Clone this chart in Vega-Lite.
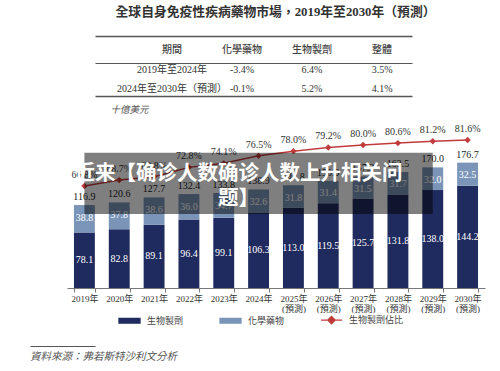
{
  "$schema": "https://vega.github.io/schema/vega-lite/v6.json",
  "padding": {"left": 28, "top": 6, "right": 8, "bottom": 4},
  "background": "white",
  "title": {
    "text": "全球自身免疫性疾病藥物市場，2019年至2030年（預測）",
    "font": "Liberation Serif, Noto Sans CJK TC",
    "fontSize": 12.8,
    "fontWeight": "bold",
    "color": "#333333",
    "anchor": "middle",
    "dx": 5,
    "offset": 17
  },
  "config": {
    "view": {"stroke": null},
    "font": "Liberation Serif, Noto Sans CJK TC"
  },
  "spacing": 32,
  "vconcat": [
    {
      "spacing": 8,
      "vconcat": [
        {
          "width": 317,
          "height": 60,
          "data": {
            "values": [
              {"row": 0, "col": "期間", "cell": "期間"},
              {"row": 0, "col": "化學藥物", "cell": "化學藥物"},
              {"row": 0, "col": "生物製劑", "cell": "生物製劑"},
              {"row": 0, "col": "整體", "cell": "整體"},
              {"row": 1, "col": "期間", "cell": "2019年至2024年"},
              {"row": 1, "col": "化學藥物", "cell": "-3.4%"},
              {"row": 1, "col": "生物製劑", "cell": "6.4%"},
              {"row": 1, "col": "整體", "cell": "3.5%"},
              {"row": 2, "col": "期間", "cell": "2024年至2030年（預測）"},
              {"row": 2, "col": "化學藥物", "cell": "-0.1%"},
              {"row": 2, "col": "生物製劑", "cell": "5.2%"},
              {"row": 2, "col": "整體", "cell": "4.1%"}
            ]
          },
          "encoding": {
            "x": {"field": "col", "type": "nominal", "scale": {"type": "point", "domain": ["期間", "化學藥物", "生物製劑", "整體"], "padding": 0.764, "align": 0.72}, "axis": null},
            "y": {
              "field": "row", "type": "quantitative",
              "scale": {"domain": [-0.72, 2.36], "reverse": true, "nice": false, "zero": false},
              "axis": {
                "values": [-0.72, 0.67, 2.36], "grid": true, "gridColor": "#555555",
                "gridWidth": {"condition": {"test": "datum.value === 0.67", "value": 1}, "value": 1.5},
                "labels": false, "ticks": false, "domain": false, "title": null,
                "minExtent": 67, "maxExtent": 67
              }
            },
            "text": {"field": "cell"}
          },
          "layer": [
            {
              "transform": [{"filter": "datum.row === 0"}],
              "mark": {"type": "text", "font": "Noto Sans CJK TC", "fontSize": 10, "fontWeight": 500, "color": "#444444", "baseline": "middle"}
            },
            {
              "transform": [{"filter": "datum.row > 0"}],
              "mark": {"type": "text", "font": "Liberation Serif, Noto Sans CJK TC", "fontSize": 10, "color": "#333333", "baseline": "middle"}
            }
          ]
        },
        {
          "width": 390,
          "height": 171,
          "data": {
            "values": [
              {"year": "2019年", "生物製劑": 78.1, "化學藥物": 38.8, "total": 116.9, "share": 0.668},
              {"year": "2020年", "生物製劑": 82.8, "化學藥物": 37.8, "total": 120.6, "share": 0.687},
              {"year": "2021年", "生物製劑": 89.1, "化學藥物": 38.6, "total": 127.7, "share": 0.698},
              {"year": "2022年", "生物製劑": 96.4, "化學藥物": 36.0, "total": 132.4, "share": 0.728},
              {"year": "2023年", "生物製劑": 99.1, "化學藥物": 34.7, "total": 133.8, "share": 0.741},
              {"year": "2024年", "生物製劑": 106.3, "化學藥物": 32.6, "total": 138.9, "share": 0.765},
              {"year": "2025年(預測)", "生物製劑": 113.0, "化學藥物": 31.8, "total": 144.8, "share": 0.780},
              {"year": "2026年(預測)", "生物製劑": 119.5, "化學藥物": 31.4, "total": 150.9, "share": 0.792},
              {"year": "2027年(預測)", "生物製劑": 125.7, "化學藥物": 31.5, "total": 157.2, "share": 0.800},
              {"year": "2028年(預測)", "生物製劑": 131.8, "化學藥物": 31.7, "total": 163.5, "share": 0.806},
              {"year": "2029年(預測)", "生物製劑": 138.0, "化學藥物": 32.0, "total": 170.0, "share": 0.812},
              {"year": "2030年(預測)", "生物製劑": 144.2, "化學藥物": 32.5, "total": 176.7, "share": 0.816}
            ]
          },
          "encoding": {
            "x": {
              "field": "year", "type": "nominal", "sort": null,
              "scale": {"paddingInner": 0.4, "paddingOuter": 0.2, "range": [-28, 390]},
              "axis": {
                "title": null, "labelAngle": 0, "labelFontSize": 9, "labelColor": "#333333",
                "labelFont": "Liberation Serif, Noto Sans CJK TC",
                "labelExpr": "length(datum.label) > 5 ? [substring(datum.label, 0, 5), substring(datum.label, 5)] : datum.label",
                "labelLineHeight": 10.5, "labelPadding": 2, "labelBaseline": "top",
                "tickBand": "extent", "tickSize": 4, "tickColor": "#777777", "domainColor": "#777777"
              }
            }
          },
          "resolve": {"scale": {"y": "independent"}},
          "layer": [
            {
              "layer": [
                {
                  "transform": [{"fold": ["生物製劑", "化學藥物"], "as": ["series", "value"]}],
                  "mark": {"type": "bar"},
                  "encoding": {
                    "y": {
                      "field": "value", "type": "quantitative", "stack": "zero",
                      "scale": {"domain": [0, 241], "nice": false},
                      "axis": {
                        "title": "十億美元", "titleAngle": 0, "titleAlign": "left", "titleBaseline": "middle",
                        "titleX": 15, "titleY": -8, "titleFontSize": 9.5, "titleFontStyle": "italic",
                        "titleFontWeight": "normal", "titleColor": "#555555", "titleFont": "Noto Sans CJK TC",
                        "labels": false, "ticks": false, "domain": false, "grid": false,
                        "minExtent": 67, "maxExtent": 67
                      }
                    },
                    "color": {
                      "field": "series", "type": "nominal",
                      "scale": {"domain": ["生物製劑", "化學藥物", "生物製劑佔比"], "range": ["#1f2a5e", "#7b95b8", "#c23b3b"]},
                      "legend": {
                        "orient": "none", "legendX": 23, "legendY": 272.5, "direction": "horizontal",
                        "title": null, "symbolSize": 441, "labelFontSize": 9, "labelColor": "#444444",
                        "labelFont": "Noto Sans CJK TC", "columnPadding": 33, "labelOffset": 6,
                        "encode": {
                          "symbols": {
                            "update": {
                              "shape": {"signal": "datum.value === '生物製劑佔比' ? 'M-1,0H1M0,-0.35L0.35,0L0,0.35L-0.35,0Z' : 'M-1,-0.22H1V0.22H-1Z'"},
                              "fill": {"signal": "datum.value === '生物製劑' ? '#1f2a5e' : datum.value === '化學藥物' ? '#7b95b8' : '#c23b3b'"},
                              "stroke": {"signal": "datum.value === '生物製劑' ? '#1f2a5e' : datum.value === '化學藥物' ? '#7b95b8' : '#c23b3b'"},
                              "strokeWidth": {"value": 1.3},
                              "opacity": {"value": 1}
                            }
                          }
                        }
                      }
                    },
                    "order": {"field": "series", "sort": "descending"}
                  }
                },
                {
                  "mark": {"type": "text", "color": "white", "fontSize": 10, "baseline": "middle", "dy": 12.5, "font": "Liberation Serif"},
                  "encoding": {
                    "y": {"field": "total", "type": "quantitative"},
                    "text": {"field": "化學藥物", "type": "quantitative", "format": ".1f"}
                  }
                },
                {
                  "mark": {"type": "text", "color": "#222222", "fontSize": 10, "baseline": "middle", "dy": -8, "font": "Liberation Serif"},
                  "encoding": {
                    "y": {"field": "total", "type": "quantitative"},
                    "text": {"field": "total", "type": "quantitative", "format": ".1f"}
                  }
                }
              ]
            },
            {
              "mark": {"type": "text", "color": "white", "fontSize": 10, "baseline": "middle", "font": "Liberation Serif"},
              "encoding": {
                "y": {"field": "生物製劑", "type": "quantitative", "scale": {"domain": [0, 482], "nice": false}, "axis": null},
                "text": {"field": "生物製劑", "type": "quantitative", "format": ".1f"}
              }
            },
            {
              "layer": [
                {
                  "mark": {"type": "line", "strokeWidth": 1.5},
                  "encoding": {
                    "y": {"field": "share", "type": "quantitative", "scale": {"domain": [0.34, 0.89], "nice": false, "zero": false}, "axis": null},
                    "color": {"datum": "生物製劑佔比"}
                  }
                },
                {
                  "mark": {"type": "point", "shape": "diamond", "filled": true, "size": 40, "opacity": 1},
                  "encoding": {
                    "y": {"field": "share", "type": "quantitative"},
                    "color": {"datum": "生物製劑佔比"}
                  }
                },
                {
                  "mark": {"type": "text", "color": "#333333", "fontSize": 10, "baseline": "middle", "dy": -11, "font": "Liberation Serif"},
                  "encoding": {
                    "y": {"field": "share", "type": "quantitative"},
                    "text": {"field": "share", "type": "quantitative", "format": ".1%"}
                  }
                },
                {
                  "data": {"values": [{"caption": "近来【确诊人数确诊人数上升相关问\n题】"}]},
                  "mark": {"type": "rect", "fill": "#000000", "fillOpacity": 0.5},
                  "encoding": {
                    "x": {"datum": "2019年"},
                    "x2": {"datum": "2029年(預測)"},
                    "y": {"datum": 0.775, "type": "quantitative"},
                    "y2": {"datum": 0.578}
                  }
                },
                {
                  "data": {"values": [{"caption": "近来【确诊人数确诊人数上升相关问\n题】"}]},
                  "mark": {"type": "text", "color": "white", "fontSize": 20.5, "fontWeight": "bold", "font": "Noto Sans CJK SC", "lineHeight": 25, "lineBreak": "\n", "align": "center", "baseline": "middle", "dx": -20},
                  "encoding": {
                    "x": {"datum": "2024年"},
                    "y": {"datum": 0.708, "type": "quantitative"},
                    "text": {"field": "caption"}
                  }
                }
              ]
            }
          ]
        }
      ]
    },
    {
      "width": 65,
      "height": 22,
      "data": {"values": [{"source": "資料來源：弗若斯特沙利文分析"}]},
      "mark": {"type": "text", "align": "left", "baseline": "middle", "fontStyle": "italic", "fontSize": 10.5, "color": "#555555", "font": "Noto Sans CJK TC", "dx": -65},
      "encoding": {
        "x": {
          "field": "source", "type": "nominal",
          "scale": {"type": "point", "padding": 0, "align": 0},
          "axis": {"orient": "top", "position": -65, "labels": false, "ticks": false, "title": null, "domainColor": "#555555", "domainWidth": 1}
        },
        "text": {"field": "source"}
      }
    }
  ]
}
